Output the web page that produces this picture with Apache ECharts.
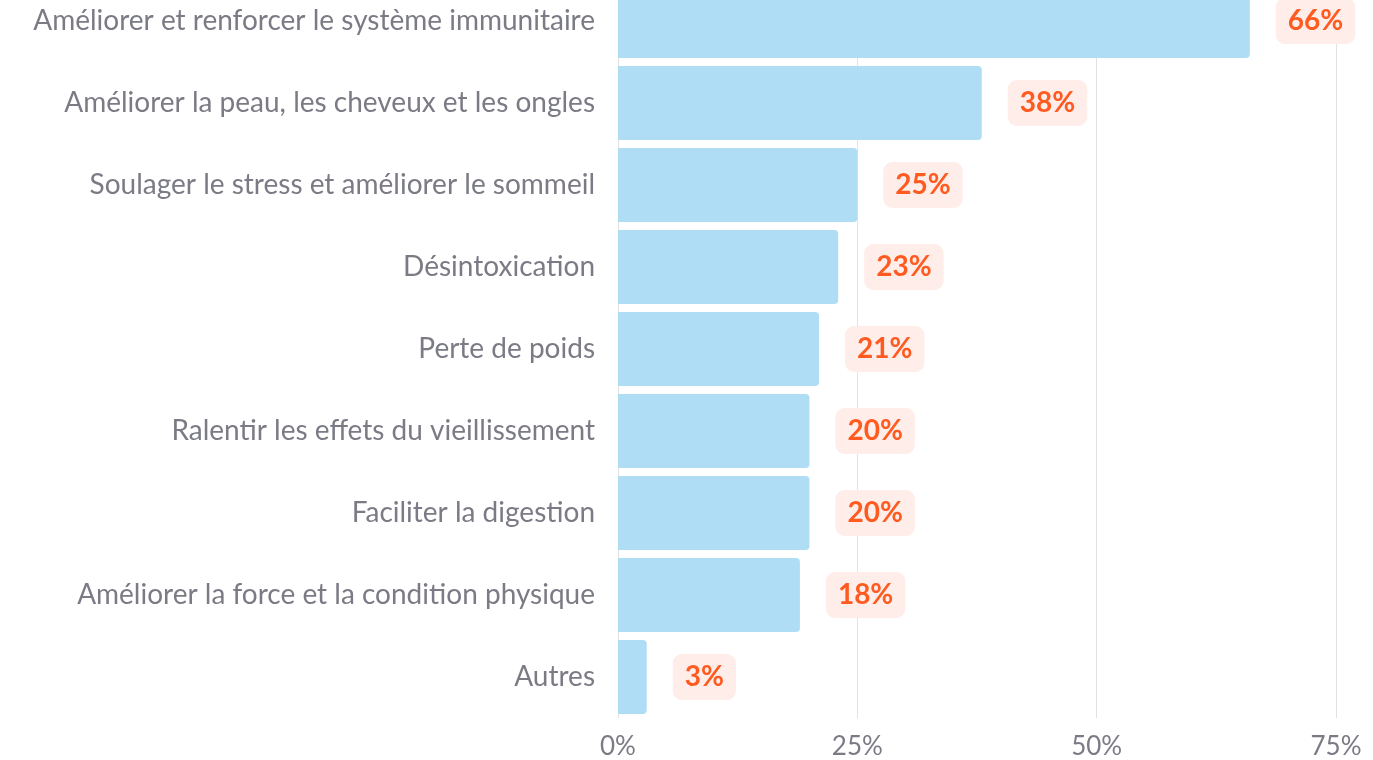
<!DOCTYPE html>
<html>
<head>
<meta charset="utf-8">
<style>
  html, body { margin: 0; padding: 0; background: #fff; }
  #chart { width: 1373px; height: 760px; }
</style>
<script src="https://cdn.jsdelivr.net/npm/echarts@6/dist/echarts.min.js"></script>
</head>
<body>
<div id="chart"></div>
<script>
// categories, top to bottom
var categories = [
	'Améliorer et renforcer le système immunitaire',
	'Améliorer la peau, les cheveux et les ongles',
	'Soulager le stress et améliorer le sommeil',
	'Désintoxication',
	'Perte de poids',
	'Ralentir les effets du vieillissement',
	'Faciliter la digestion',
	'Améliorer la force et la condition physique',
	'Autres'
];
// bar lengths (%)
var values = [66, 38, 25, 23, 21, 20, 20, 19, 3];
// percentages printed on the labels
var shown = ['66%', '38%', '25%', '23%', '21%', '20%', '20%', '18%', '3%'];
var xTicks = [0, 25, 50, 75];

var myChart = echarts.init(document.getElementById('chart'));

var option = {
	animation: false,
	grid: {
		left: 618,
		width: 718,
		top: -20,
		height: 738,
		outerBoundsMode: 'none',
		containLabel: false
	},
	xAxis: {
		type: 'value',
		min: xTicks[0],
		max: xTicks[xTicks.length - 1],
		interval: 25,
		axisLine: {show: false},
		axisTick: {show: false},
		splitLine: {
			lineStyle: {color: '#e2e2e2', width: 1}
		},
		axisLabel: {
			formatter: '{value}%',
			color: '#7b7b85',
			fontFamily: 'Lato',
			fontSize: 26,
			margin: 16
		}
	},
	yAxis: {
		type: 'category',
		inverse: true,
		data: categories,
		axisLine: {show: false},
		axisTick: {show: false},
		axisLabel: {
			color: '#7b7b85',
			fontFamily: 'Lato',
			fontSize: 28,
			margin: 23
		}
	},
	series: [{
		type: 'bar',
		data: values,
		barCategoryGap: '10%',
		itemStyle: {
			color: '#afddf6',
			borderRadius: [0, 4, 4, 0]
		},
		label: {
			show: true,
			position: 'right',
			distance: 26,
			formatter: function (p) {
				return shown[p.dataIndex];
			},
			color: '#ff5a1f',
			fontFamily: 'Lato',
			fontWeight: 'bold',
			fontSize: 28,
			backgroundColor: '#feede9',
			borderRadius: 9,
			padding: [9, 12]
		}
	}]
};

myChart.setOption(option);
</script>
</body>
</html>
